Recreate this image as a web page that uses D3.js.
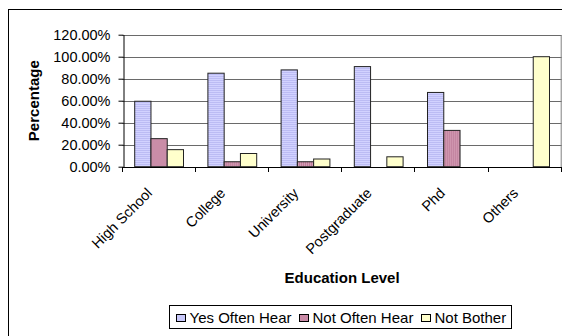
<!DOCTYPE html>
<html>
<head>
<meta charset="utf-8">
<script src="https://cdn.jsdelivr.net/npm/d3@7/dist/d3.min.js"></script>
<style>
  html, body { margin: 0; padding: 0; background: #fff; }
  svg { display: block; font-family: Arial, "Liberation Sans", sans-serif; }
</style>
</head>
<body>
<svg id="chart" width="562" height="336"></svg>
<script>
// Share of respondents by education level
const categories = ["High School", "College", "University", "Postgraduate", "Phd", "Others"];
const seriesNames = ["Yes Often Hear", "Not Often Hear", "Not Bother"];
const yesOftenHear = [0.595, 0.85, 0.88, 0.91, 0.675, 0];
const notOftenHear = [0.255, 0.045, 0.045, 0, 0.33, 0];
const notBother    = [0.155, 0.12, 0.07, 0.09, 0, 1.0];
const yTicks = [0, 0.2, 0.4, 0.6, 0.8, 1.0, 1.2];

const seriesValues = [yesOftenHear, notOftenHear, notBother];
const rows = categories.map((c, i) => ({
  category: c,
  values: seriesNames.map((s, k) => ({ series: s, value: seriesValues[k][i] }))
}));

const svg = d3.select("#chart");

// outer chart frame (extends past the right and bottom edges)
svg.append("rect")
  .attr("x", 8.5).attr("y", 9.5)
  .attr("width", 620).attr("height", 400)
  .attr("fill", "#fff").attr("stroke", "#000").attr("stroke-width", 1);

const plot = { left: 122.5, right: 561.7, top: 34.7, bottom: 166.7 };

const y = d3.scaleLinear().domain([0, 1.2]).range([plot.bottom, plot.top]);
const x0 = d3.scaleBand().domain(categories).range([plot.left, plot.right]).padding(0);
const barW = x0.bandwidth() / 4.5;
const x1 = d3.scaleBand().domain(seriesNames)
  .range([barW * 0.75, barW * 0.75 + barW * 3]).padding(0);

// fill patterns
const defs = svg.append("defs");
const pBlue = defs.append("pattern").attr("id", "pBlue")
  .attr("patternUnits", "userSpaceOnUse").attr("width", 4).attr("height", 2);
pBlue.append("rect").attr("width", 4).attr("height", 2).attr("fill", "#d2d2ff");
pBlue.append("rect").attr("width", 4).attr("height", 1).attr("fill", "#bcbcf4");

const pRed = defs.append("pattern").attr("id", "pRed")
  .attr("patternUnits", "userSpaceOnUse").attr("width", 2).attr("height", 4);
pRed.append("rect").attr("width", 2).attr("height", 4).attr("fill", "#d6a2b8");
pRed.append("rect").attr("width", 1).attr("height", 4).attr("fill", "#bd7897");

const fills = {
  "Yes Often Hear": "url(#pBlue)",
  "Not Often Hear": "url(#pRed)",
  "Not Bother": "#ffffcc"
};
const legendFills = {
  "Yes Often Hear": "#c8c8fa",
  "Not Often Hear": "#c98aa6",
  "Not Bother": "#ffffcc"
};

// gridlines
svg.append("g")
  .selectAll("line")
  .data(yTicks.filter(t => t > 0))
  .join("line")
  .attr("x1", plot.left).attr("x2", plot.right)
  .attr("y1", d => Math.round(y(d)) + 0.5).attr("y2", d => Math.round(y(d)) + 0.5)
  .attr("stroke", "#6a6a6a").attr("stroke-width", 1);

// right edge of plot area
svg.append("line")
  .attr("x1", plot.right - 0.5).attr("x2", plot.right - 0.5)
  .attr("y1", Math.round(y(1.2)) + 0.5).attr("y2", Math.round(y(0)) + 0.5)
  .attr("stroke", "#808080");

// bars
svg.append("g")
  .selectAll("g")
  .data(rows)
  .join("g")
  .attr("transform", d => `translate(${x0(d.category)},0)`)
  .selectAll("rect")
  .data(d => d.values.filter(v => v.value > 0))
  .join("rect")
  .attr("x", d => x1(d.series))
  .attr("y", d => y(d.value))
  .attr("width", x1.bandwidth())
  .attr("height", d => y(0) - y(d.value))
  .attr("fill", d => fills[d.series])
  .attr("stroke", "#222")
  .attr("stroke-width", 1);

// y axis
const yAxis = svg.append("g")
  .attr("transform", `translate(${Math.round(plot.left) + 0.5},0)`)
  .call(d3.axisLeft(y).tickValues(yTicks).tickFormat(d3.format(".2%"))
    .tickSize(5).tickPadding(8).tickSizeOuter(0));
yAxis.select(".domain").attr("stroke", "#000");
yAxis.selectAll(".tick line").attr("stroke", "#000");
yAxis.selectAll(".tick text")
  .attr("font-size", "14.5px").attr("fill", "#000")
  .attr("font-family", "Arial, 'Liberation Sans', sans-serif");

// x axis with ticks between categories
const xg = svg.append("g");
xg.append("line")
  .attr("x1", plot.left).attr("x2", plot.right)
  .attr("y1", Math.round(y(0)) + 0.5).attr("y2", Math.round(y(0)) + 0.5)
  .attr("stroke", "#000");
xg.selectAll("line.tk")
  .data(categories.map(c => x0(c)).concat([plot.right]))
  .join("line")
  .attr("class", "tk")
  .attr("x1", d => Math.round(d) - 0.5).attr("x2", d => Math.round(d) - 0.5)
  .attr("y1", Math.round(y(0))).attr("y2", Math.round(y(0)) + 5)
  .attr("stroke", "#000");

// category labels, rotated
xg.selectAll("text")
  .data(categories)
  .join("text")
  .attr("transform", d => `translate(${x0(d) + x0.bandwidth() / 2 - 6},194) rotate(-45)`)
  .attr("text-anchor", "end")
  .attr("font-size", "14.5px")
  .attr("fill", "#000")
  .text(d => d);

// axis titles
svg.append("text")
  .attr("x", (plot.left + plot.right) / 2).attr("y", 283)
  .attr("text-anchor", "middle")
  .attr("font-size", "15px").attr("font-weight", "bold")
  .text("Education Level");

svg.append("text")
  .attr("transform", `translate(39,${(plot.top + plot.bottom) / 2}) rotate(-90)`)
  .attr("text-anchor", "middle")
  .attr("font-size", "15px").attr("font-weight", "bold")
  .text("Percentage");

// legend
const lg = svg.append("g");
const box = { x: 169.5, y: 305.5, w: 342, h: 23 };
lg.append("rect")
  .attr("x", box.x).attr("y", box.y).attr("width", box.w).attr("height", box.h)
  .attr("fill", "#fff").attr("stroke", "#000");

const items = lg.selectAll("g.item").data(seriesNames).join("g").attr("class", "item");
items.append("rect")
  .attr("width", 9).attr("height", 7)
  .attr("fill", d => legendFills[d]).attr("stroke", "#000");
items.append("text")
  .attr("font-size", "15px").attr("fill", "#000")
  .attr("x", 13).attr("y", 8.5)
  .text(d => d);

const widths = [];
items.select("text").each(function () { widths.push(this.getComputedTextLength()); });
const pad = 6;
const content = widths.reduce((a, w) => a + 13 + w, 0);
const gap = Math.max(4, (box.w - 2 * pad - content) / (widths.length - 1));
let cx = box.x + pad;
items.each(function (d, i) {
  d3.select(this).attr("transform", `translate(${Math.round(cx) + 0.5},${box.y + 9})`);
  cx += 13 + widths[i] + gap;
});
</script>
</body>
</html>
